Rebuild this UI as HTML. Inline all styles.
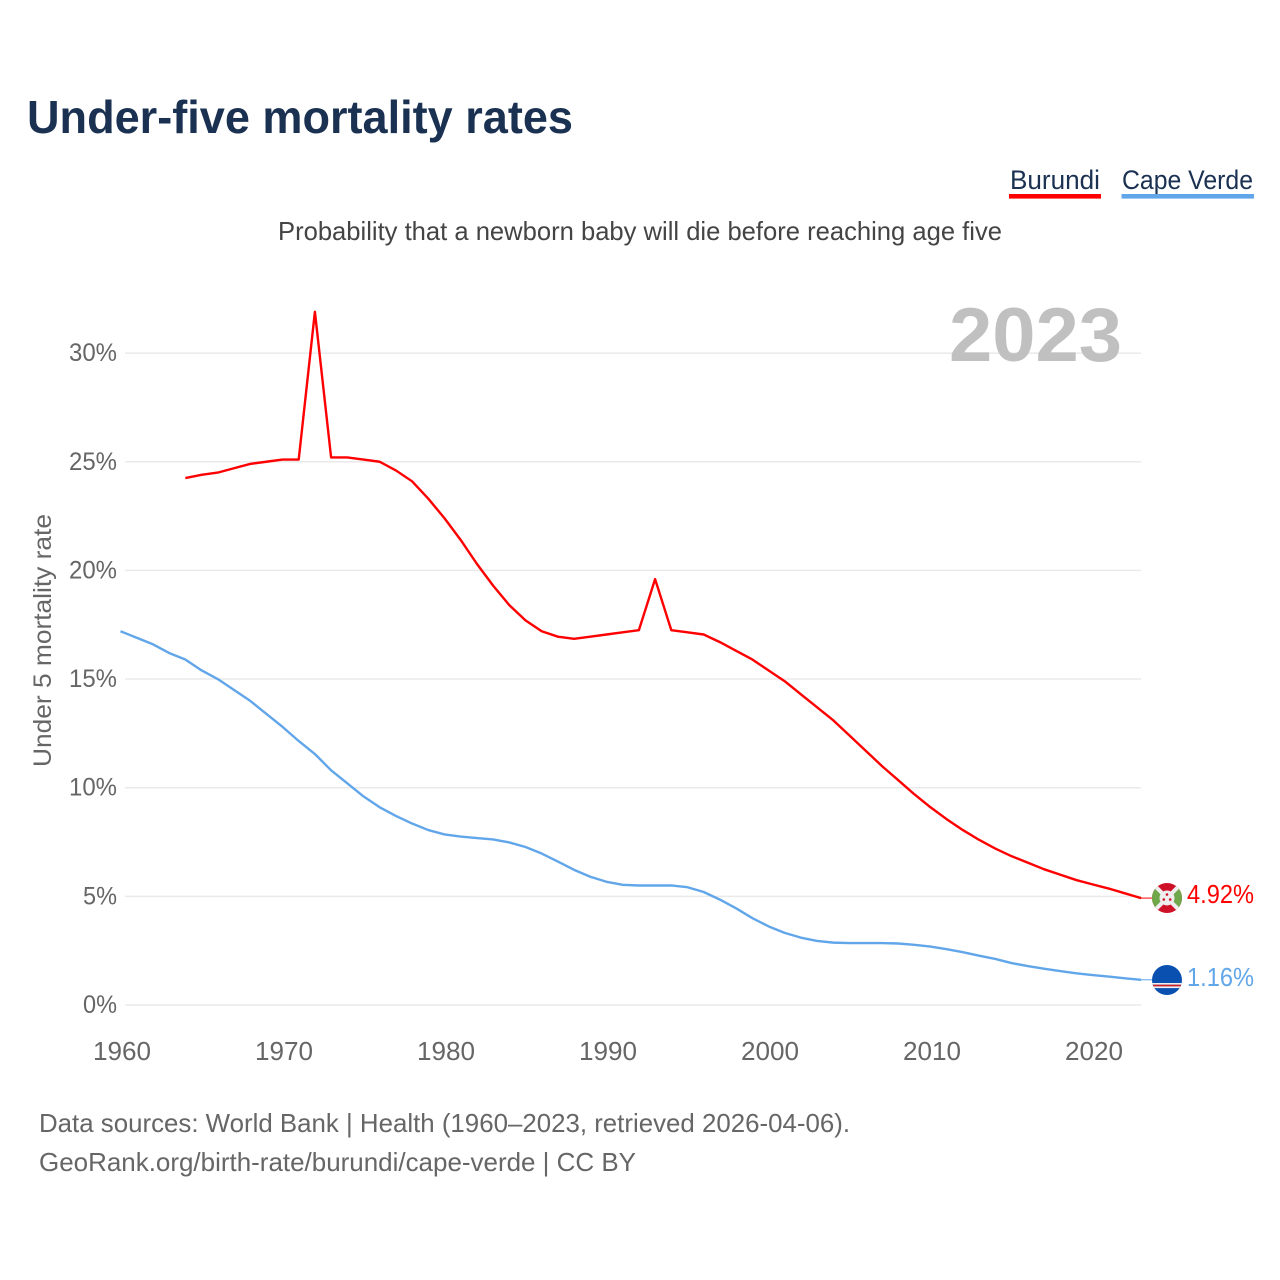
<!DOCTYPE html>
<html lang="en">
<head>
<meta charset="utf-8">
<title>Under-five mortality rates</title>
<style>
html,body{margin:0;padding:0;background:#fff;}
svg{display:block;font-family:"Liberation Sans",sans-serif;}
</style>
</head>
<body>
<svg id="chart" xmlns="http://www.w3.org/2000/svg" width="1280" height="1280" viewBox="0 0 1280 1280">
  <rect x="0" y="0" width="1280" height="1280" fill="#ffffff"/>
  <text x="27" y="133" font-size="46" font-weight="700" fill="#1a3152" textLength="546" lengthAdjust="spacingAndGlyphs">Under-five mortality rates</text>
  <g>
    <text x="1010" y="189" font-size="27" fill="#1a3152" textLength="90" lengthAdjust="spacingAndGlyphs">Burundi</text>
    <rect x="1009" y="194" width="92" height="4.6" fill="#ff0000"/>
  </g>
  <g>
    <text x="1122" y="189" font-size="27" fill="#1a3152" textLength="131" lengthAdjust="spacingAndGlyphs">Cape Verde</text>
    <rect x="1121.5" y="194" width="132.5" height="4.6" fill="#62a6ea"/>
  </g>
  <text x="278" y="240" font-size="26" fill="#444444" textLength="724" lengthAdjust="spacingAndGlyphs">Probability that a newborn baby will die before reaching age five</text>
  <g id="grid"></g>
  <g id="yticks"></g>
  <g id="xticks"></g>
  <text transform="translate(51,767) rotate(-90)" font-size="25" fill="#666666" textLength="253" lengthAdjust="spacingAndGlyphs">Under 5 mortality rate</text>
  <text x="949" y="361" font-size="76" font-weight="700" fill="#c0c0c0" textLength="173" lengthAdjust="spacingAndGlyphs">2023</text>
  <g id="series"></g>
  <g>
    <defs>
      <clipPath id="clip-bi"><circle cx="1167" cy="898" r="15"/></clipPath>
      <clipPath id="clip-cv"><circle cx="1167" cy="980" r="15"/></clipPath>
    </defs>
    <g clip-path="url(#clip-bi)">
      <rect x="1152" y="883" width="30" height="30" fill="#ce1126"/>
      <polygon points="1152,883 1167,898 1152,913" fill="#6fa84a"/>
      <polygon points="1182,883 1167,898 1182,913" fill="#6fa84a"/>
      <line x1="1152" y1="883" x2="1182" y2="913" stroke="#eeeeee" stroke-width="4"/>
      <line x1="1182" y1="883" x2="1152" y2="913" stroke="#eeeeee" stroke-width="4"/>
      <circle cx="1167" cy="898" r="7.5" fill="#eeeeee"/>
      <circle cx="1167" cy="894.5" r="1.3" fill="#ce1126"/>
      <circle cx="1163.8" cy="899.5" r="1.3" fill="#ce1126"/>
      <circle cx="1170.2" cy="899.5" r="1.3" fill="#ce1126"/>
    </g>
  </g>
  <g>
    <g clip-path="url(#clip-cv)">
      <rect x="1152" y="965" width="30" height="30" fill="#0a50b0"/>
      <rect x="1152" y="983" width="30" height="1.7" fill="#f0f0f0"/>
      <rect x="1152" y="984.7" width="30" height="1.7" fill="#cf2027"/>
      <rect x="1152" y="986.4" width="30" height="1.7" fill="#f0f0f0"/>
    </g>
  </g>
  <text id="value-burundi" x="1187" y="903" font-size="26" fill="#ff0000" textLength="67" lengthAdjust="spacingAndGlyphs"></text>
  <text id="value-cape-verde" x="1187" y="986" font-size="26" fill="#62a6ea" textLength="67" lengthAdjust="spacingAndGlyphs"></text>
  <text x="39" y="1132" font-size="26" fill="#666666" textLength="811" lengthAdjust="spacingAndGlyphs">Data sources: World Bank | Health (1960–2023, retrieved 2026-04-06).</text>
  <text x="39" y="1171" font-size="26" fill="#666666" textLength="597" lengthAdjust="spacingAndGlyphs">GeoRank.org/birth-rate/burundi/cape-verde | CC BY</text>
</svg>
<script>
const burundiStartYear = 1964;
const capeVerdeStartYear = 1960;
const burundiValues = [24.25,24.4,24.5,24.7,24.9,25.0,25.1,25.1,31.9,25.2,25.2,25.1,25.0,24.6,24.1,23.3,22.4,21.4,20.3,19.3,18.4,17.7,17.2,16.95,16.85,16.95,17.05,17.15,17.25,19.6,17.25,17.15,17.05,16.7,16.3,15.9,15.4,14.9,14.3,13.7,13.1,12.4,11.7,11.0,10.35,9.7,9.1,8.55,8.05,7.6,7.2,6.85,6.55,6.25,6.0,5.75,5.55,5.36,5.14,4.92];
const capeVerdeValues = [17.2,16.9,16.6,16.2,15.9,15.4,15.0,14.5,14.0,13.4,12.8,12.15,11.55,10.8,10.2,9.6,9.1,8.7,8.35,8.05,7.85,7.75,7.68,7.62,7.48,7.27,6.97,6.6,6.22,5.9,5.67,5.53,5.5,5.5,5.5,5.42,5.2,4.85,4.45,4.0,3.62,3.32,3.1,2.95,2.87,2.85,2.85,2.85,2.83,2.77,2.69,2.57,2.43,2.27,2.12,1.93,1.79,1.67,1.56,1.46,1.38,1.31,1.23,1.16];
const yTicks = [0,5,10,15,20,25,30];
const xTicks = [1960,1970,1980,1990,2000,2010,2020];
const svgNS = 'http://www.w3.org/2000/svg';
function xScale(year){ return 120.5 + (year - 1960) * 16.2; }
function yScale(v){ return 1005 - v * 21.73; }
function make(tag, attrs, parent, text){
  const el = document.createElementNS(svgNS, tag);
  for (const k in attrs) el.setAttribute(k, attrs[k]);
  if (text !== undefined) el.textContent = text;
  parent.appendChild(el);
  return el;
}
const grid = document.getElementById('grid');
const yg = document.getElementById('yticks');
const xg = document.getElementById('xticks');
const series = document.getElementById('series');
yTicks.forEach(function(t){
  const line = make('line', {x1:125, x2:1141, y1:yScale(t), y2:yScale(t), stroke:'#eaeaea', 'stroke-width':1.5}, grid);
  
  
  const label = t + '%';
  const txt = make('text', {x:117, y:yScale(t)+8, 'font-size':25, fill:'#666666', 'text-anchor':'end', textLength:14*label.length+6, lengthAdjust:'spacingAndGlyphs'}, yg, label);
  
  
});
xTicks.forEach(function(t){
  const txt = make('text', {x:xScale(t)+1.5, y:1060, 'font-size':26, fill:'#666666', 'text-anchor':'middle', textLength:58, lengthAdjust:'spacingAndGlyphs'}, xg, String(t));
  
  
});
function pathFor(values, start){
  return values.map(function(v,i){ return (i ? 'L' : 'M') + xScale(start + i).toFixed(2) + ' ' + yScale(v).toFixed(2); }).join(' ');
}
const burundiLine = make('path', {d:pathFor(burundiValues, burundiStartYear), fill:'none', stroke:'#ff0000', 'stroke-width':2.4, 'stroke-linejoin':'round'}, series);


const capeVerdeLine = make('path', {d:pathFor(capeVerdeValues, capeVerdeStartYear), fill:'none', stroke:'#62a6ea', 'stroke-width':2.4, 'stroke-linejoin':'round'}, series);


const lastB = burundiValues[burundiValues.length-1];
const lastC = capeVerdeValues[capeVerdeValues.length-1];
const leaderB = make('line', {x1:1141, x2:1152, y1:yScale(lastB), y2:yScale(lastB), stroke:'#ff0000', 'stroke-width':1}, series);


const leaderC = make('line', {x1:1141, x2:1152, y1:yScale(lastC), y2:yScale(lastC), stroke:'#62a6ea', 'stroke-width':1}, series);


document.getElementById('value-burundi').textContent = lastB.toFixed(2) + '%';
document.getElementById('value-cape-verde').textContent = lastC.toFixed(2) + '%';
</script>
</body>
</html>
